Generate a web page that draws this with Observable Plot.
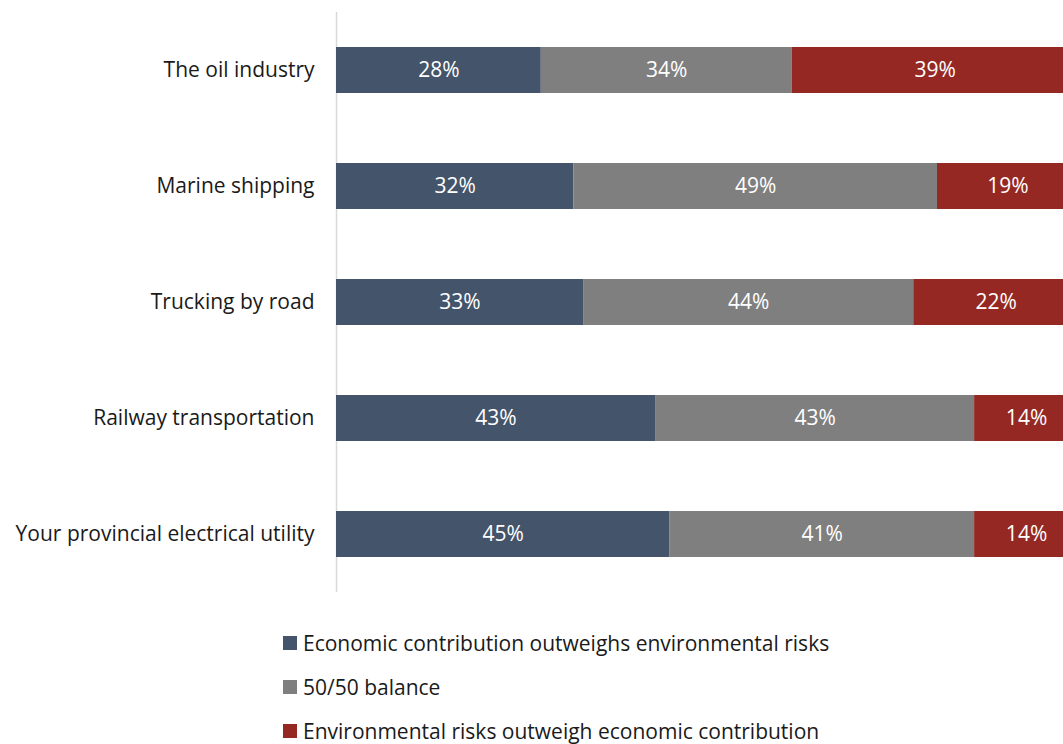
<!DOCTYPE html>
<html>
<head>
<meta charset="utf-8">
<script src="https://cdn.jsdelivr.net/npm/d3@7"></script>
<script src="https://cdn.jsdelivr.net/npm/@observablehq/plot@0.6"></script>
<style>
  body { margin: 0; background: #fff; font-family: "Open Sans", Lato, sans-serif; }
  #legend { padding-top: 21px; padding-left: 283px; font-size: 21px; color: #1a1a1a; }
  .item { height: 44px; line-height: 44px; display: flex; align-items: center; white-space: nowrap; }
  .sw { width: 14px; height: 14px; margin-right: 6px; display: inline-block; flex: none; }
</style>
</head>
<body>
<div id="chart"></div>
<div id="legend"></div>
<script>
const categories = ["The oil industry", "Marine shipping", "Trucking by road", "Railway transportation", "Your provincial electrical utility"];
const seriesNames = ["Economic contribution outweighs environmental risks", "50/50 balance", "Environmental risks outweigh economic contribution"];
const seriesColors = ["#44546A", "#7F7F7F", "#952822"];
const economic = [27.6, 32.0, 33.3, 43.0, 44.9];
const balance = [33.8, 49.0, 44.5, 43.0, 41.1];
const environmental = [38.6, 19.0, 22.2, 14.0, 14.0];
const economicLabels = ["28%", "32%", "33%", "43%", "45%"];
const balanceLabels = ["34%", "49%", "44%", "43%", "41%"];
const environmentalLabels = ["39%", "19%", "22%", "14%", "14%"];

const valueSets = [economic, balance, environmental];
const labelSets = [economicLabels, balanceLabels, environmentalLabels];
const rows = [];
categories.forEach((c, i) => {
  seriesNames.forEach((s, j) => {
    rows.push({cat: c, series: s, value: valueSets[j][i], label: labelSets[j][i]});
  });
});

const font = "'Open Sans', Lato, sans-serif";
const chart = Plot.plot({
  width: 1063,
  height: 600,
  marginLeft: 336,
  marginRight: -15,
  marginTop: 12,
  marginBottom: 8,
  style: {fontFamily: font, fontSize: "21px", color: "#1a1a1a", background: "#fff"},
  x: {domain: [0, 100], axis: null},
  y: {domain: categories, paddingInner: 0.6, paddingOuter: 0.3, label: null},
  color: {domain: seriesNames, range: seriesColors},
  marks: [
    Plot.ruleX([0], {stroke: "#D9D9D9", strokeWidth: 1.5}),
    Plot.barX(rows, Plot.stackX({x: "value", y: "cat", fill: "series", order: seriesNames, inset: 0})),
    Plot.text(rows, Plot.stackX({x: "value", y: "cat", z: "series", order: seriesNames, text: "label", fill: "white", fontSize: 21})),
    Plot.axisY({tickSize: 0, tickPadding: 22, label: null, fontSize: 21})
  ]
});
document.getElementById("chart").appendChild(chart);

const legend = document.getElementById("legend");
seriesNames.forEach((s, j) => {
  const d = document.createElement("div");
  d.className = "item";
  const sw = document.createElement("span");
  sw.className = "sw";
  sw.style.background = seriesColors[j];
  d.appendChild(sw);
  d.appendChild(document.createTextNode(s));
  legend.appendChild(d);
});
</script>
</body>
</html>
